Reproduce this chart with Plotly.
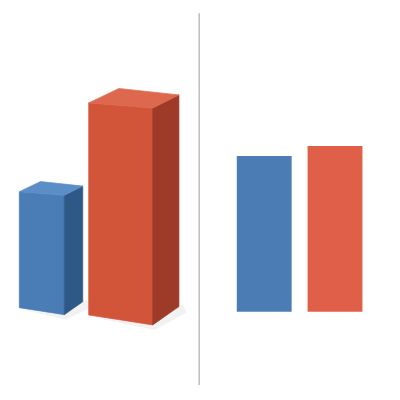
import plotly.graph_objects as go

# ---- data ----
categories = ["A", "B"]
values_flat = [47, 50]          # right panel (2D bars)
values_3d = [35, 64]            # left panel (apparent heights of 3D bars)
colors_front = ["#4a7db5", "#d2553a"]
colors_side = ["#2e5987", "#9e3a28"]
colors_top = ["#5b8ec7", "#de684d"]
colors_flat = ["#4b7db4", "#df5f48"]

# ---- 3D box geometry (style) ----
PX_PER_UNIT = 3.314
box_x0 = [19.3, 88.7]
box_base = [92.3, 85.0]
box_w = [45, 64]
SB, ST = -0.155, -0.08

fig = go.Figure()

def add(fig, pts, color, lw=0.7):
    xs = [p[0] for p in pts] + [pts[0][0]]
    ys = [p[1] for p in pts] + [pts[0][1]]
    fig.add_trace(go.Scatter(x=xs, y=ys, mode="lines", fill="toself",
                             fillcolor=color, line=dict(width=lw, color=color),
                             hoverinfo="skip", showlegend=False,
                             xaxis="x", yaxis="y"))

for i, cat in enumerate(categories):
    x0, base, W = box_x0[i], box_base[i], box_w[i]
    H = values_3d[i] * PX_PER_UNIT
    FLB = (x0, base)
    FRB = (x0 + W, base + SB * W)
    FLT = (x0, base + H)
    FRT = (x0 + W, base + H + ST * W)
    dx = 0.41 * W
    BRB = (FRB[0] + dx, FRB[1] + 0.7 * dx)
    BRT = (FRT[0] + dx, FRT[1] + 0.5 * dx)
    BLT = (FLT[0] + 1.15 * dx, FLT[1] + 0.55 * dx)
    # soft shadow
    add(fig, [(FLB[0] + 3, FLB[1] - 2), (FRB[0] + 2, FRB[1] - 5),
              (BRB[0] + 8, BRB[1] - 6), (BRB[0] + 4, BRB[1] + 2), BRB, FRB],
        "rgba(0,0,0,0.05)", lw=0)
    add(fig, [FLB, FRB, FRT, FLT], colors_front[i])
    add(fig, [FRB, BRB, BRT, FRT], colors_side[i])
    add(fig, [FLT, FRT, BRT, BLT], colors_top[i])

fig.add_trace(go.Bar(x=[0, 1], y=values_flat, width=0.775,
                     marker=dict(color=colors_flat, line=dict(width=0)),
                     xaxis="x2", yaxis="y2", showlegend=False, hoverinfo="skip"))

fig.update_layout(
    width=400, height=400, margin=dict(l=0, r=0, t=0, b=0),
    paper_bgcolor="white", plot_bgcolor="white",
    xaxis=dict(domain=[0, 1], range=[0, 400], visible=False, fixedrange=True),
    yaxis=dict(domain=[0, 1], range=[0, 400], visible=False, fixedrange=True),
    xaxis2=dict(domain=[0.5, 1], range=[-0.907, 1.918], visible=False, anchor="y2"),
    yaxis2=dict(domain=[0, 1], range=[-26.64, 94.06], visible=False, anchor="x2"),
    shapes=[dict(type="line", xref="paper", yref="paper", x0=0.498, x1=0.498,
                 y0=0.0375, y1=0.967, line=dict(color="#bdbdbd", width=1.5))],
)

fig.write_html("out.html", config={"staticPlot": True},
               post_script="document.body.style.margin='0';document.body.style.overflow='hidden';")
